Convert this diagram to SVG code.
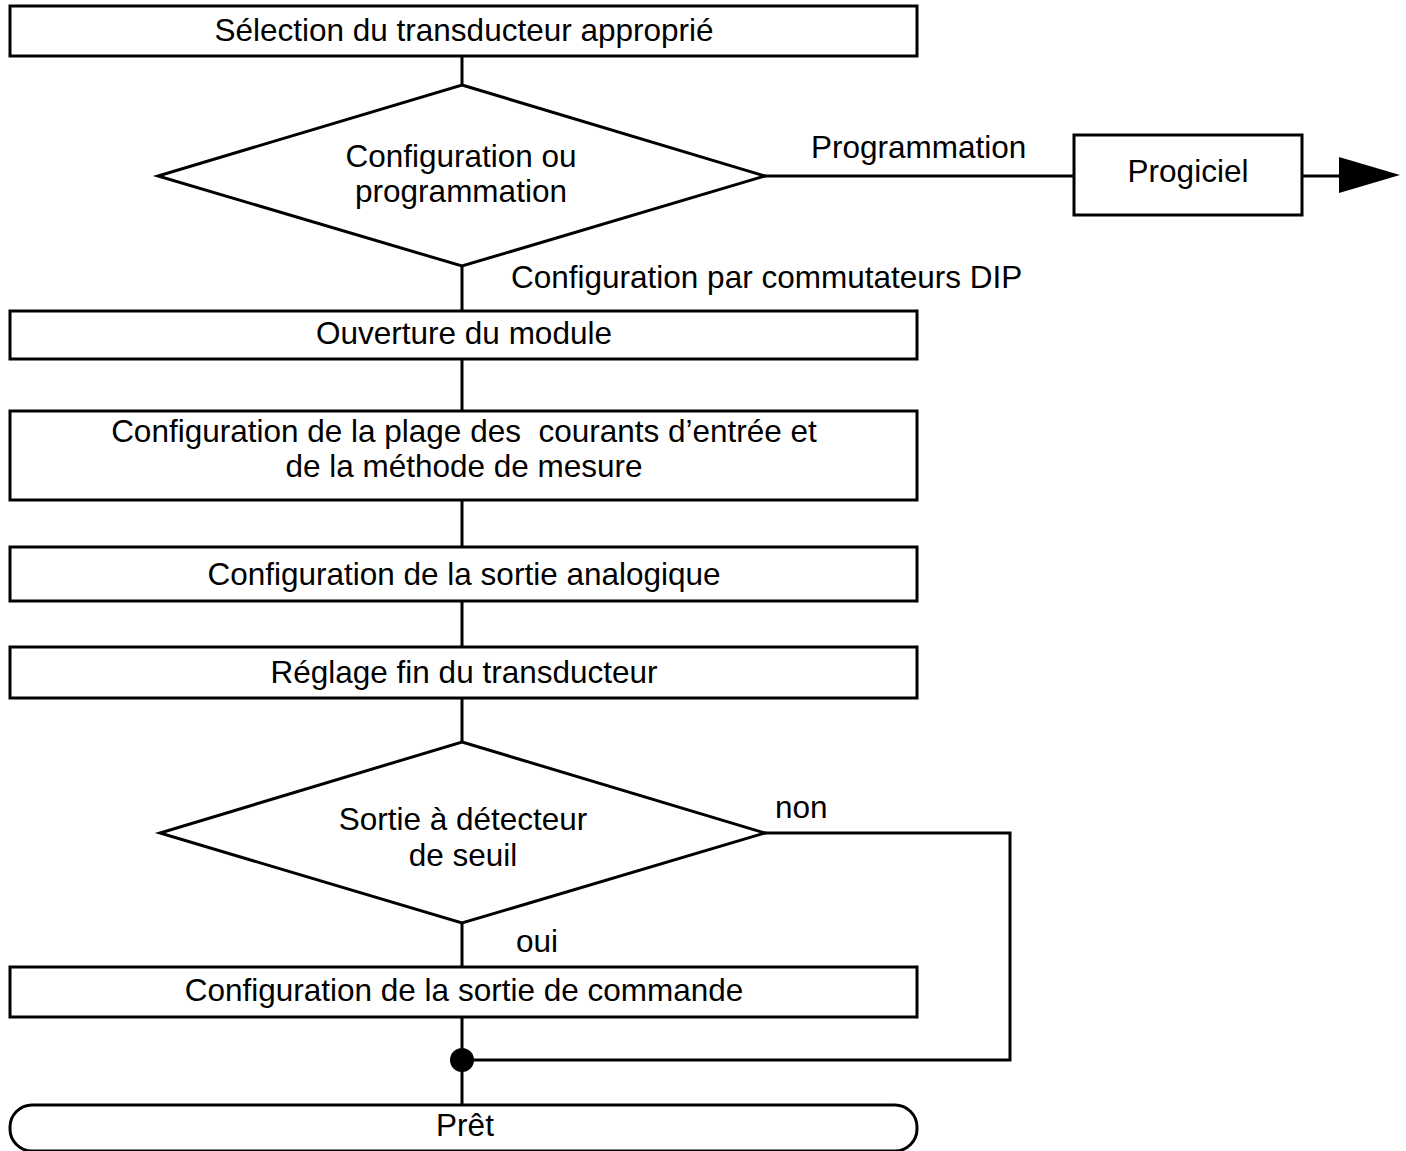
<svg xmlns="http://www.w3.org/2000/svg" width="1406" height="1151" viewBox="0 0 1406 1151">
<style>
.box{fill:#fff;stroke:#000;stroke-width:3}
.ln{fill:none;stroke:#000;stroke-width:3}
text{font-family:"Liberation Sans",Arial,sans-serif;font-size:31.5px;fill:#000;white-space:pre}
.c{text-anchor:middle}
</style>
<rect width="1406" height="1151" fill="#fff"/>
<g id="connectors">
<path class="ln" d="M462 56V85M462 266V311M462 359V411M462 500V547M462 601V647M462 698V742M462 923V967M462 1017V1105"/>
<path class="ln" d="M765 176H1074M1302 176H1340"/>
<polygon points="1339,157 1400,175 1339,193" fill="#000"/>
<path class="ln" d="M765 833H1010V1060H462"/>
<circle cx="462" cy="1060" r="12" fill="#000"/>
<text x="811" y="158">Programmation</text>
<text x="511" y="288">Configuration par commutateurs DIP</text>
<text x="775" y="818">non</text>
<text x="516" y="952">oui</text>
</g>
<g id="n1"><rect class="box" x="10" y="6" width="907" height="50"/><text class="c" x="464" y="41">Sélection du transducteur approprié</text></g>
<g id="d1"><polygon class="box" points="462,85 765,176 462,266 158,176"/><text class="c" x="461" y="167">Configuration ou</text><text class="c" x="461" y="202">programmation</text></g>
<g id="prog"><rect class="box" x="1074" y="135" width="228" height="80"/><text class="c" x="1188" y="182">Progiciel</text></g>
<g id="n2"><rect class="box" x="10" y="311" width="907" height="48"/><text class="c" x="464" y="344">Ouverture du module</text></g>
<g id="n3"><rect class="box" x="10" y="411" width="907" height="89"/><text class="c" x="464" y="442">Configuration de la plage des  courants d’entrée et</text><text class="c" x="464" y="477">de la méthode de mesure</text></g>
<g id="n4"><rect class="box" x="10" y="547" width="907" height="54"/><text class="c" x="464" y="585">Configuration de la sortie analogique</text></g>
<g id="n5"><rect class="box" x="10" y="647" width="907" height="51"/><text class="c" x="464" y="683">Réglage fin du transducteur</text></g>
<g id="d2"><polygon class="box" points="462,742 765,833 462,923 160,833"/><text class="c" x="463" y="830">Sortie à détecteur</text><text class="c" x="463" y="866">de seuil</text></g>
<g id="n6"><rect class="box" x="10" y="967" width="907" height="50"/><text class="c" x="464" y="1001">Configuration de la sortie de commande</text></g>
<g id="end"><rect class="box" x="10" y="1105" width="907" height="46" rx="22" ry="22"/><text class="c" x="465" y="1136">Prêt</text></g>
</svg>
